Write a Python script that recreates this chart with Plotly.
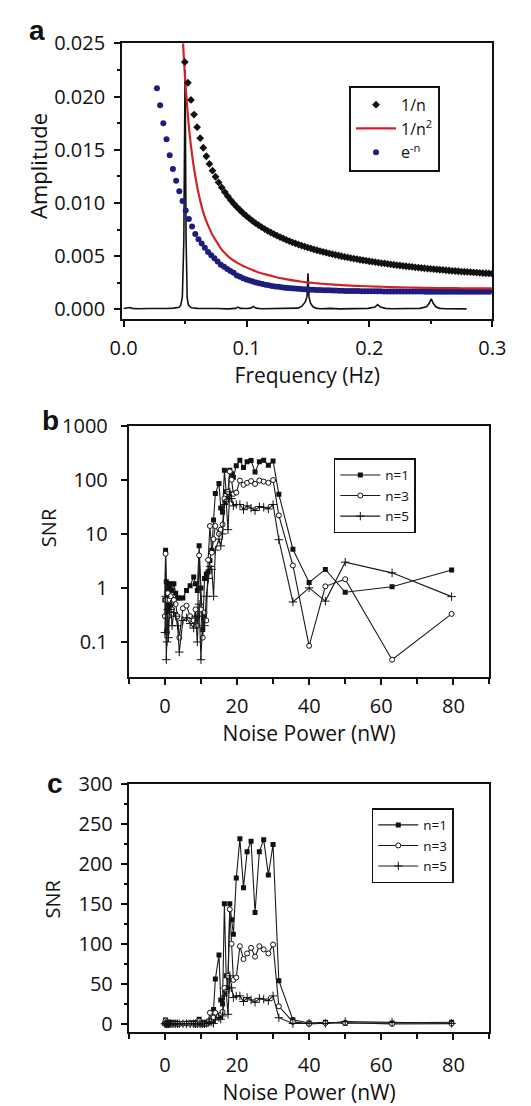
import plotly.graph_objects as go

# ---------------- Panel a data ----------------
spec_freq = [0.000, 0.003, 0.005, 0.007, 0.012, 0.020, 0.028, 0.035, 0.041, 0.045,
             0.0465, 0.0478, 0.0490, 0.0500, 0.0508, 0.0517, 0.0527, 0.055, 0.060, 0.068,
             0.076, 0.085, 0.091, 0.093, 0.095, 0.100, 0.1035, 0.1056, 0.1077, 0.112,
             0.120, 0.128, 0.136, 0.142, 0.145, 0.1478, 0.1492, 0.1500, 0.1508, 0.1520,
             0.154, 0.157, 0.161, 0.168, 0.176, 0.184, 0.192, 0.199, 0.2045, 0.2067,
             0.209, 0.213, 0.218, 0.226, 0.234, 0.241, 0.2465, 0.2488, 0.2503, 0.2518,
             0.254, 0.257, 0.262, 0.270, 0.279]
spec_amp = [0.00008, 0.00010, 0.00018, 0.00010, 0.00006, 0.00008, 0.00005, 0.00009, 0.00012, 0.00020,
            0.00040, 0.00120, 0.00650, 0.02250, 0.00680, 0.00110, 0.00040, 0.00015, 0.00010, 0.00006,
            0.00009, 0.00005, 0.00010, 0.00022, 0.00010, 0.00008, 0.00012, 0.00028, 0.00012, 0.00006,
            0.00009, 0.00005, 0.00008, 0.00012, 0.00030, 0.00070, 0.00120, 0.00340, 0.00120, 0.00060,
            0.00025, 0.00010, 0.00007, 0.00010, 0.00005, 0.00008, 0.00006, 0.00010, 0.00022, 0.00045,
            0.00022, 0.00010, 0.00006, 0.00008, 0.00005, 0.00010, 0.00025, 0.00060, 0.00100, 0.00060,
            0.00025, 0.00010, 0.00006, 0.00008, 0.00005]

inv_n_freq = [0.0498, 0.0523, 0.0548, 0.0573, 0.0598, 0.0623, 0.0648, 0.0673, 0.0698, 0.0723,
              0.0748, 0.0773, 0.0798, 0.0823, 0.0848, 0.0873, 0.0898, 0.0923, 0.0948, 0.0973,
              0.0998, 0.1023, 0.1048, 0.1073, 0.1098, 0.1123, 0.1148, 0.1173, 0.1198, 0.1223,
              0.1248, 0.1273, 0.1298, 0.1323, 0.1348, 0.1373, 0.1398, 0.1423, 0.1448, 0.1473,
              0.1498, 0.1523, 0.1548, 0.1573, 0.1598, 0.1623, 0.1648, 0.1673, 0.1698, 0.1723,
              0.1748, 0.1773, 0.1798, 0.1823, 0.1848, 0.1873, 0.1898, 0.1923, 0.1948, 0.1973,
              0.1998, 0.2023, 0.2048, 0.2073, 0.2098, 0.2123, 0.2148, 0.2173, 0.2198, 0.2223,
              0.2248, 0.2273, 0.2298, 0.2323, 0.2348, 0.2373, 0.2398, 0.2423, 0.2448, 0.2473,
              0.2498, 0.2523, 0.2548, 0.2573, 0.2598, 0.2623, 0.2648, 0.2673, 0.2698, 0.2723,
              0.2748, 0.2773, 0.2798, 0.2823, 0.2848, 0.2873, 0.2898, 0.2923, 0.2948, 0.2973,
              0.2998]
inv_n_amp = [0.02325, 0.02131, 0.01969, 0.01832, 0.01713, 0.01610, 0.01520, 0.01440, 0.01368, 0.01304,
             0.01247, 0.01194, 0.01147, 0.01103, 0.01063, 0.01026, 0.00992, 0.00961, 0.00932, 0.00904,
             0.00879, 0.00855, 0.00832, 0.00811, 0.00792, 0.00773, 0.00755, 0.00738, 0.00723, 0.00708,
             0.00693, 0.00680, 0.00667, 0.00654, 0.00642, 0.00631, 0.00620, 0.00610, 0.00600, 0.00591,
             0.00581, 0.00573, 0.00564, 0.00556, 0.00548, 0.00541, 0.00533, 0.00526, 0.00519, 0.00513,
             0.00507, 0.00500, 0.00494, 0.00489, 0.00483, 0.00478, 0.00473, 0.00467, 0.00462, 0.00458,
             0.00453, 0.00449, 0.00444, 0.00440, 0.00436, 0.00432, 0.00428, 0.00424, 0.00420, 0.00416,
             0.00413, 0.00409, 0.00406, 0.00403, 0.00399, 0.00396, 0.00393, 0.00390, 0.00387, 0.00384,
             0.00382, 0.00379, 0.00376, 0.00373, 0.00371, 0.00368, 0.00366, 0.00363, 0.00361, 0.00359,
             0.00356, 0.00354, 0.00352, 0.00350, 0.00348, 0.00346, 0.00344, 0.00342, 0.00340, 0.00338,
             0.00336]

inv_n2_freq = [0.0478, 0.0490, 0.0500, 0.0511, 0.0523, 0.0536, 0.0551, 0.0567, 0.0585, 0.0606,
               0.0630, 0.0657, 0.0687, 0.0719, 0.0760, 0.0800, 0.0860, 0.0928, 0.0990, 0.1050,
               0.1120, 0.1189, 0.1250, 0.1320, 0.1390, 0.1450, 0.1520, 0.1580, 0.1650, 0.1712,
               0.1780, 0.1850, 0.1910, 0.1973, 0.2100, 0.2250, 0.2370, 0.2496, 0.2620, 0.2750,
               0.2880, 0.3000]
inv_n2_amp = [0.0262, 0.0237, 0.0218, 0.0200, 0.0182, 0.0166, 0.0151, 0.0137, 0.0124, 0.0111,
              0.0099, 0.0088, 0.0079, 0.0071, 0.0063, 0.0056, 0.0049, 0.00435, 0.0040, 0.0037,
              0.0034, 0.0032, 0.0030, 0.00285, 0.0027, 0.0026, 0.00252, 0.00245, 0.00238, 0.00233,
              0.00228, 0.00224, 0.00221, 0.00218, 0.00213, 0.00208, 0.00205, 0.00202, 0.00200, 0.00199,
              0.00198, 0.00197]

exp_n_freq = [0.0271, 0.0297, 0.0323, 0.0349, 0.0375, 0.0401, 0.0427, 0.0453, 0.0479, 0.0505,
              0.0531, 0.0557, 0.0583, 0.0609, 0.0635, 0.0661, 0.0687, 0.0713, 0.0739, 0.0765,
              0.0791, 0.0817, 0.0843, 0.0869, 0.0895, 0.0921, 0.0947, 0.0973, 0.0999, 0.1025,
              0.1051, 0.1077, 0.1103, 0.1129, 0.1155, 0.1181, 0.1207, 0.1233, 0.1259, 0.1285,
              0.1311, 0.1337, 0.1363, 0.1389, 0.1415, 0.1441, 0.1467, 0.1493, 0.1519, 0.1545,
              0.1571, 0.1597, 0.1623, 0.1649, 0.1675, 0.1701, 0.1727, 0.1753, 0.1779, 0.1805,
              0.1831, 0.1857, 0.1883, 0.1909, 0.1935, 0.1961, 0.1987, 0.2013, 0.2039, 0.2065,
              0.2091, 0.2117, 0.2143, 0.2169, 0.2195, 0.2221, 0.2247, 0.2273, 0.2299, 0.2325,
              0.2351, 0.2377, 0.2403, 0.2429, 0.2455, 0.2481, 0.2507, 0.2533, 0.2559, 0.2585,
              0.2611, 0.2637, 0.2663, 0.2689, 0.2715, 0.2741, 0.2767, 0.2793, 0.2819, 0.2845,
              0.2871, 0.2897, 0.2923, 0.2949, 0.2975]
exp_n_amp = [0.0208, 0.0192, 0.0175, 0.0160, 0.0145, 0.0132, 0.0121, 0.0111, 0.0102, 0.0093,
             0.0085, 0.0078, 0.0071, 0.0066, 0.0062, 0.0058, 0.0054, 0.0051, 0.0048, 0.0045,
             0.0042, 0.0040, 0.0038, 0.0036, 0.00345, 0.0032, 0.00306, 0.00293, 0.00282, 0.00272,
             0.00262, 0.00254, 0.00246, 0.00239, 0.00232, 0.00226, 0.00221, 0.00216, 0.00212, 0.00208,
             0.00204, 0.00201, 0.00198, 0.00196, 0.00194, 0.00192, 0.00190, 0.00188, 0.00186, 0.00185,
             0.00183, 0.00182, 0.00181, 0.00180, 0.00179, 0.00178, 0.00177, 0.00176, 0.00175, 0.00174,
             0.00173, 0.00173, 0.00172, 0.00172, 0.00171, 0.00171, 0.00170, 0.00170, 0.00170, 0.00170,
             0.00170, 0.00169, 0.00169, 0.00169, 0.00169, 0.00169, 0.00169, 0.00168, 0.00168, 0.00168,
             0.00168, 0.00168, 0.00168, 0.00168, 0.00167, 0.00167, 0.00167, 0.00167, 0.00167, 0.00167,
             0.00167, 0.00166, 0.00166, 0.00166, 0.00166, 0.00166, 0.00166, 0.00166, 0.00165, 0.00165,
             0.00165, 0.00165, 0.00165, 0.00165, 0.00165]

# ---------------- Panels b & c data ----------------
noise_power = [0.0, 0.2, 0.4, 0.6, 0.8, 1.0, 1.3, 1.6, 2.0, 2.5,
               3.0, 3.5, 4.0, 5.0, 6.0, 7.0, 8.0, 8.5, 9.0, 9.5,
               10.0, 10.5, 11.0, 11.5, 12.0, 12.5, 13.0, 13.5, 14.0, 15.0,
               15.5, 16.0, 16.5, 17.0, 17.5, 18.0, 18.5, 19.0, 19.8, 20.8,
               21.8, 22.8, 23.9, 25.0, 26.2, 27.4, 28.7, 30.0, 31.6, 35.5,
               40.0, 44.5, 50.0, 63.0, 79.5]
snr_n1 = [0.6, 5.0, 1.3, 0.3, 1.2, 0.5, 1.0, 1.2, 0.9, 1.2,
          0.8, 0.65, 0.65, 0.65, 0.9, 1.1, 1.6, 1.2, 0.9, 6.0,
          1.0, 0.17, 1.5, 1.8, 2.0, 3.2, 5.0, 18, 56, 86,
          30, 25, 150, 60, 45, 150, 130, 112, 182, 231,
          170, 215, 228, 139, 215, 230, 186, 224, 54, 5.2,
          1.26, 2.2, 0.83, 1.05, 2.15]
snr_n3 = [0.3, 4.3, 0.6, 0.15, 0.8, 0.3, 0.6, 0.7, 0.4, 0.6,
          0.5, 0.3, 0.12, 0.42, 0.47, 0.3, 0.25, 0.4, 0.2, 4.0,
          0.4, 0.12, 0.35, 0.25, 3.3, 14, 4.5, 8, 14, 10,
          12, 15, 45, 40, 60, 143, 100, 55, 58, 97,
          81, 88, 95, 84, 97, 93, 88, 99, 22, 2.6,
          0.085, 1.07, 1.45, 0.047, 0.33]
snr_n5 = [0.15, 0.7, 0.047, 0.1, 0.4, 0.12, 0.4, 0.5, 0.2, 0.35,
          0.3, 0.2, 0.065, 0.25, 0.28, 0.22, 0.18, 0.3, 0.1, 0.5,
          0.047, 0.3, 0.2, 0.7, 1.5, 2.5, 2.2, 0.7, 5, 8,
          6, 10, 35, 40, 12, 60, 45, 33, 35, 35,
          28, 33, 30, 27, 32, 31, 29, 35, 7.8, 0.55,
          1.0, 0.57, 3.0, 1.9, 0.69]

W, H = 531, 1106
FONT = "Open Sans"
TXT = "#111111"


def px_x(p):
    return p / W


def px_y(p):
    return 1 - p / H


fig = go.Figure()

# Panel a
fig.add_trace(go.Scatter(x=spec_freq, y=spec_amp, mode="lines",
                         line=dict(color="#111111", width=1.6), showlegend=False,
                         xaxis="x", yaxis="y"))
fig.add_trace(go.Scatter(x=exp_n_freq, y=exp_n_amp, mode="markers", name="e<sup>-n</sup>",
                         marker=dict(symbol="circle", size=6, color="#1d1d7e"),
                         xaxis="x", yaxis="y", legend="legend", legendrank=3))
fig.add_trace(go.Scatter(x=inv_n2_freq, y=inv_n2_amp, mode="lines", name="1/n<sup>2</sup>",
                         line=dict(color="#d1232a", width=2.2, shape="spline"),
                         xaxis="x", yaxis="y", legend="legend", legendrank=2))
fig.add_trace(go.Scatter(x=inv_n_freq, y=inv_n_amp, mode="markers", name="1/n",
                         marker=dict(symbol="diamond", size=6, color="#111111"),
                         xaxis="x", yaxis="y", legend="legend", legendrank=1))

series = [("n=1", snr_n1, dict(symbol="square", size=5, color="#111111")),
          ("n=3", snr_n3, dict(symbol="circle", size=5, color="white",
                               line=dict(color="#111111", width=1))),
          ("n=5", snr_n5, dict(symbol="cross-thin", size=6, color="#111111",
                               line=dict(color="#111111", width=1)))]

for ax, leg in (("2", "legend2"), ("3", "legend3")):
    for name, vals, mk in series:
        fig.add_trace(go.Scatter(x=noise_power, y=vals, mode="lines+markers", name=name,
                                 line=dict(color="#1a1a1a", width=1.1), marker=mk,
                                 xaxis="x" + ax, yaxis="y" + ax, legend=leg))

TICK = 20
TITLE = 21
axis_common = dict(showline=True, linecolor="#111111", linewidth=2, mirror=True,
                   ticks="outside", tickcolor="#111111", tickwidth=1.5, ticklen=6,
                   showgrid=False, zeroline=False,
                   tickfont=dict(family=FONT, size=TICK, color=TXT))
title_font = dict(family=FONT, size=TITLE, color=TXT)

fig.update_layout(
    width=W, height=H, margin=dict(l=0, r=0, t=0, b=0),
    paper_bgcolor="white", plot_bgcolor="white",
    font=dict(family=FONT, color=TXT),
    xaxis=dict(axis_common, domain=[px_x(115), px_x(505)], anchor="y",
               range=[-0.0012, 0.3], tickvals=[0.0, 0.1, 0.2, 0.3], tickformat=".1f",
               ticklabelstandoff=4,
               minor=dict(ticks="outside", ticklen=3, dtick=0.05, tickcolor="#111111"),
               title=dict(text="Frequency (Hz)", font=title_font, standoff=4)),
    yaxis=dict(axis_common, domain=[px_y(310), px_y(30)], anchor="x",
               range=[-0.00087, 0.025], tickvals=[0, 0.005, 0.01, 0.015, 0.02, 0.025], tickformat=".3f",
               ticklabelstandoff=5,
               minor=dict(ticks="outside", ticklen=3, dtick=0.0025, tickcolor="#111111")),
    xaxis2=dict(axis_common, domain=[px_x(122), px_x(502)], anchor="y2",
                range=[-10, 90], tickvals=[0, 20, 40, 60, 80], ticklabelstandoff=4,
                minor=dict(ticks="outside", ticklen=5, tickvals=[-10, 10, 30, 50, 70, 90], tickcolor="#111111"),
                title=dict(text="Noise Power (nW)", font=title_font, standoff=8)),
    yaxis2=dict(axis_common, domain=[px_y(675), px_y(419)], anchor="x2", type="log",
                range=[-1.656, 3], tickvals=[0.1, 1, 10, 100, 1000],
                ticktext=["0.1", "1", "10", "100", "1000"], ticklabelstandoff=9),
    xaxis3=dict(axis_common, domain=[px_x(122), px_x(502)], anchor="y3",
                range=[-10, 90], tickvals=[0, 20, 40, 60, 80], ticklabelstandoff=8,
                minor=dict(ticks="outside", ticklen=5, tickvals=[-10, 10, 30, 50, 70, 90], tickcolor="#111111"),
                title=dict(text="Noise Power (nW)", font=title_font, standoff=1)),
    yaxis3=dict(axis_common, domain=[px_y(1036), px_y(783)], anchor="x3",
                range=[-10.3, 300], tickvals=[0, 50, 100, 150, 200, 250, 300], ticklabelstandoff=4,
                minor=dict(ticks="outside", ticklen=3, dtick=25, tickcolor="#111111")),
    legend=dict(x=px_x(354), y=px_y(73), xanchor="left", yanchor="top",
                bordercolor="#111111", borderwidth=2, bgcolor="white",
                font=dict(family=FONT, size=16, color=TXT), itemsizing="trace",
                itemwidth=40, traceorder="normal"),
    legend2=dict(x=px_x(338), y=px_y(452), xanchor="left", yanchor="top",
                 bordercolor="#111111", borderwidth=1.5, bgcolor="white",
                 font=dict(family=FONT, size=13.5, color=TXT), itemsizing="trace", itemwidth=40),
    legend3=dict(x=px_x(378), y=px_y(808), xanchor="left", yanchor="top",
                 bordercolor="#111111", borderwidth=1.5, bgcolor="white",
                 font=dict(family=FONT, size=13.5, color=TXT), itemsizing="trace", itemwidth=40),
    showlegend=True,
)

# y-axis titles (placed where the reference has them, a little above the panel centres)
for text, xp, yp, size in (("Amplitude", 27, 155, 22), ("SNR", 37, 523, 20), ("SNR", 42, 900, 20)):
    fig.add_annotation(text=text, x=px_x(xp), y=px_y(yp), xref="paper", yref="paper",
                       showarrow=False, textangle=-90, xanchor="center", yanchor="middle",
                       font=dict(family=FONT, size=size, color=TXT))

for letter, xp, yp in (("a", 25, 17), ("b", 40, 414), ("c", 44, 783)):
    fig.add_annotation(text="<b>%s</b>" % letter, x=px_x(xp), y=px_y(yp), xref="paper", yref="paper",
                       showarrow=False, xanchor="center", yanchor="middle",
                       font=dict(family="Liberation Sans", size=28, color=TXT))

fig.write_html("out.html")
